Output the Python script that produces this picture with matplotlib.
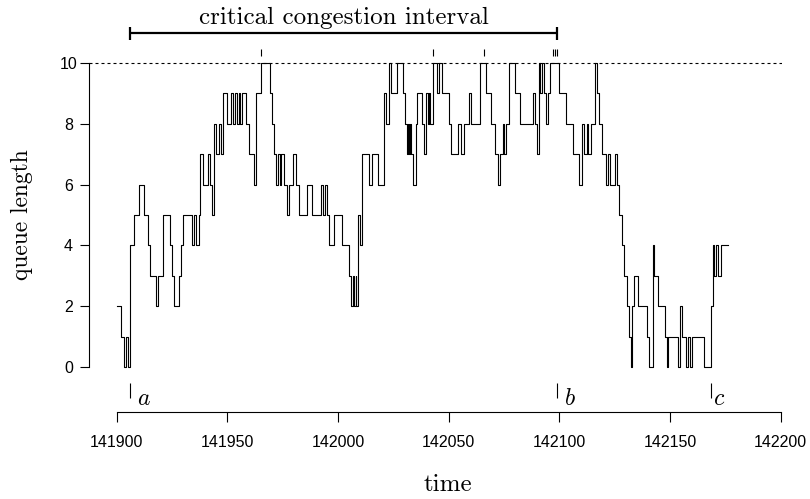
import matplotlib
matplotlib.use("Agg")
import matplotlib.pyplot as plt

# ---------------- data ----------------
T0 = 141900
# change points of the queue length (time offsets from T0) and the new value
time_offsets = [
    0.00, 1.94, 3.16, 4.20, 4.97, 5.96, 7.95, 9.94, 12.11, 14.14,
    14.96, 17.89, 18.80, 21.01, 24.08, 25.12, 25.80, 27.92, 28.92, 30.05,
    33.93, 34.93, 35.92, 37.05, 37.73, 39.13, 41.16, 42.24, 42.97, 44.05,
    45.00, 46.08, 46.99, 48.03, 49.97, 51.42, 52.32, 53.22, 54.13, 55.03,
    55.71, 56.39, 58.19, 59.91, 61.90, 63.07, 65.06, 69.04, 70.30, 71.16,
    71.84, 72.88, 73.65, 74.37, 75.72, 76.94, 77.94, 79.74, 80.87, 82.14,
    86.12, 88.01, 92.08, 93.07, 93.98, 95.11, 95.83, 98.04, 101.93, 104.96,
    106.08, 106.76, 107.21, 107.89, 108.34, 109.11, 109.93, 110.92, 113.99, 115.35,
    118.15, 120.99, 121.81, 122.94, 124.07, 126.64, 129.22, 130.12, 131.02, 131.61,
    132.20, 132.65, 133.06, 134.01, 135.09, 135.81, 138.03, 138.84, 139.88, 140.51,
    140.96, 141.33, 143.13, 144.71, 145.75, 146.75, 150.14, 151.18, 154.11, 155.56,
    156.82, 159.17, 160.21, 164.28, 166.85, 169.11, 171.05, 172.14, 173.31, 174.40,
    175.12, 176.03, 177.11, 179.82, 182.08, 187.95, 188.86, 189.90, 190.66, 191.39,
    192.02, 193.19, 193.96, 194.73, 195.90, 199.97, 203.00, 206.03, 209.01, 210.36,
    211.27, 212.49, 213.07, 214.16, 216.24, 217.14, 218.13, 219.04, 221.07, 222.06,
    222.79, 225.05, 225.95, 226.94, 228.39, 229.29, 230.56, 231.60, 232.28, 233.04,
    233.50, 235.44, 239.46, 240.36, 242.17, 242.89, 244.56, 247.73, 248.50, 249.22,
    253.74, 254.50, 255.27, 257.22, 257.98, 259.02, 260.06, 265.35, 268.38, 269.28,
    269.87, 270.77, 271.81, 272.89,
]
queue_values = [
    2, 1, 0, 1, 0, 4, 5, 6, 5, 4,
    3, 2, 3, 5, 4, 3, 2, 3, 4, 5,
    4, 5, 4, 5, 7, 6, 7, 6, 5, 8,
    7, 8, 7, 9, 8, 9, 8, 9, 8, 9,
    8, 9, 8, 7, 6, 9, 10, 9, 8, 7,
    6, 7, 6, 7, 6, 5, 6, 7, 6, 5,
    6, 5, 6, 5, 6, 5, 4, 5, 4, 3,
    2, 3, 2, 3, 2, 5, 4, 7, 6, 7,
    6, 9, 8, 10, 9, 10, 9, 8, 7, 8,
    7, 8, 7, 6, 8, 9, 8, 7, 9, 8,
    9, 8, 10, 9, 10, 9, 8, 7, 8, 7,
    8, 9, 8, 10, 9, 8, 7, 6, 7, 8,
    7, 8, 10, 9, 8, 9, 8, 7, 10, 9,
    10, 9, 8, 9, 10, 9, 8, 7, 6, 8,
    7, 8, 7, 8, 10, 9, 8, 7, 6, 7,
    6, 7, 6, 5, 4, 3, 2, 1, 0, 2,
    3, 2, 1, 0, 4, 3, 2, 1, 0, 1,
    0, 2, 1, 0, 1, 0, 1, 0, 2, 4,
    3, 4, 3, 4,
]
end_offset = 276.33

drop_offsets = [65.20, 143.04, 165.95, 197.13, 198.03, 198.93]
queue_limit = 10

marker_names = ["a", "b", "c"]
marker_times = [141906.0, 142099.0, 142168.4]
interval_label = "critical congestion interval"

xticks = [141900, 141950, 142000, 142050, 142100, 142150, 142200]
xtick_labels = ["141900", "141950", "142000", "142050", "142100", "142150", "142200"]
yticks = [0, 2, 4, 6, 8, 10]
ytick_labels = ["0", "2", "4", "6", "8", "10"]

# ---------------- figure ----------------
W, H = 810, 499
fig = plt.figure(figsize=(W / 100, H / 100), dpi=100)
ax = fig.add_axes([89 / W, 87 / H, 693 / W, 402.2 / H])
ax.set_xlim(141887.48, 142200.59)
ax.set_ylim(-1.48, 11.75)

times = [T0 + o for o in time_offsets] + [T0 + end_offset]
vals = queue_values + [queue_values[-1]]
ax.step(times, vals, where="post", color="black", lw=0.8)

# capacity line
ax.axhline(queue_limit, color="black", lw=0.8, ls=(0, (2.7, 2.7)))

# drop ticks above the capacity line
ax.vlines([T0 + d for d in drop_offsets], 10.23, 10.46, color="black", lw=0.8)

# critical congestion interval
a_t, b_t = marker_times[0], marker_times[1]
ax.plot([a_t, b_t], [10.99, 10.99], color="black", lw=1.6, solid_capstyle="butt")
ax.vlines([a_t, b_t], 10.76, 11.18, color="black", lw=1.6)
ax.text((a_t + b_t) / 2, 11.48, interval_label, ha="center", va="center",
        fontfamily="cmr10", fontsize=18)

# a, b, c markers
label_dx = [3.3, 3.5, 1.3]
ax.vlines(marker_times, -1.02, -0.53, color="black", lw=0.8)
for name, t, dx in zip(marker_names, marker_times, label_dx):
    ax.text(t + dx, -1.25, name, ha="left", va="baseline",
            fontfamily="cmmi10", fontsize=17)

# axes
for s in ("top", "right"):
    ax.spines[s].set_visible(False)
ax.spines["left"].set_bounds(0, 10)
ax.spines["bottom"].set_bounds(141900, 142200)
for s in ("left", "bottom"):
    ax.spines[s].set_linewidth(0.8)

ax.set_xticks(xticks)
ax.set_xticklabels(xtick_labels, fontfamily="Liberation Sans", fontsize=11.5)
ax.set_yticks(yticks)
ax.set_yticklabels(ytick_labels, fontfamily="Liberation Sans", fontsize=11.5)
ax.tick_params(axis="x", direction="out", length=7.2, width=0.8, pad=9.4)
ax.tick_params(axis="y", direction="out", length=6.2, width=0.8, pad=8.6)
for lbl in ax.get_yticklabels():
    lbl.set_horizontalalignment("center")

fig.text(448 / W, 1 - 485 / H, "time", ha="center", va="center",
         fontfamily="cmr10", fontsize=18)
fig.text(22 / W, 1 - 215 / H, "queue length", ha="center", va="center",
         rotation=90, fontfamily="cmr10", fontsize=17)

fig.savefig("out.png", dpi=100)
